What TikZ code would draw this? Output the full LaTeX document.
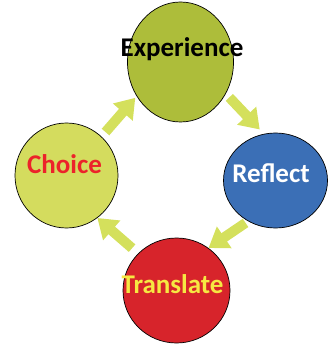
\documentclass[tikz,border=0pt]{standalone}
\usepackage{fontspec}
\setmainfont{Carlito}
\usetikzlibrary{shapes.geometric,arrows.meta}
\definecolor{expcol}{RGB}{173,189,58}
\definecolor{chocol}{RGB}{212,220,94}
\definecolor{refcol}{RGB}{59,111,182}
\definecolor{tracol}{RGB}{215,36,43}
\definecolor{arrcol}{RGB}{212,224,92}
\definecolor{redtxt}{RGB}{236,35,42}
\definecolor{yeltxt}{RGB}{246,232,66}
\tikzset{
  blob/.style={ellipse, draw=black, line width=0.7pt, inner sep=0pt},
  lbl/.style={font=\bfseries\fontsize{27}{30}\selectfont, inner sep=0pt, anchor=center},
  arr/.style={arrcol, line width=10pt, -{Triangle[width=25pt,length=19pt]}},
}
\begin{document}
\begin{tikzpicture}[x=1pt,y=-1pt]
\useasboundingbox (0,0) rectangle (335,344);
\node[blob, fill=expcol, minimum width=106pt, minimum height=120pt] (exp) at (180.5,62) {};
\node[blob, fill=refcol, minimum width=104pt, minimum height=95pt] (ref) at (275.5,180.5) {};
\node[blob, fill=tracol, minimum width=107pt, minimum height=105pt] (tra) at (176.5,290.5) {};
\node[blob, fill=chocol, minimum width=103pt, minimum height=105pt] (cho) at (66.5,175.5) {};
\draw[arr, shorten <=6pt, shorten >=2pt] (cho.48) -- (exp.218);
\draw[arr, shorten <=5pt, shorten >=6pt] (exp.-35) -- (ref.104);
\draw[arr, shorten <=3pt, shorten >=0pt] (ref.236) -- (tra.53);
\draw[arr, shorten <=8pt, shorten >=0pt] (tra.136) -- (cho.306);
\node[lbl, text=black] (exptxt) at (182,49) {Experience};
\node[lbl, text=white] (reftxt) at (271,173) {Reflect};
\node[lbl, text=yeltxt] (tratxt) at (172.5,284) {Translate};
\node[lbl, text=redtxt] (chotxt) at (64.5,164) {Choice};
\end{tikzpicture}
\end{document}
